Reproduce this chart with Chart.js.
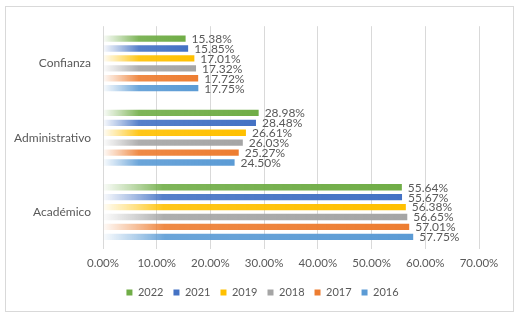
<!DOCTYPE html>
<html>
<head>
<meta charset="utf-8">
<script src="https://cdn.jsdelivr.net/npm/chart.js@4"></script>
<style>
  html, body { margin: 0; padding: 0; background: #fff; }
  #wrap {
    position: absolute; left: 5px; top: 6px;
    width: 507px; height: 304px;
    border: 1px solid #d9d9d9; background: #fff;
  }
</style>
</head>
<body>
<div id="wrap"><canvas id="chart"></canvas></div>
<script>
// categories (top to bottom) and one array per year
const categories = ["Confianza", "Administrativo", "Académico"];
const years = ["2022", "2021", "2019", "2018", "2017", "2016"];
const v2022 = [15.38, 28.98, 55.64];
const v2021 = [15.85, 28.48, 55.67];
const v2019 = [17.01, 26.61, 56.38];
const v2018 = [17.32, 26.03, 56.65];
const v2017 = [17.72, 25.27, 57.01];
const v2016 = [17.75, 24.50, 57.75];
const tickLabels = ["0.00%", "10.00%", "20.00%", "30.00%", "40.00%", "50.00%", "60.00%", "70.00%"];

const series = [v2022, v2021, v2019, v2018, v2017, v2016];
const colors = ["112,173,71", "68,114,196", "255,192,0", "165,165,165", "237,125,49", "91,155,213"];
const TXT = "#595959";
const FONT = "Lato, 'Liberation Sans', sans-serif";

// Excel-style gradient: fades in from white at the axis
function gradientFill(rgb) {
  return (ctx) => {
    const chart = ctx.chart;
    if (!chart.chartArea || ctx.raw == null) return "rgb(" + rgb + ")";
    const xs = chart.scales.x;
    const x0 = xs.getPixelForValue(0);
    const x1 = xs.getPixelForValue(ctx.raw);
    const len = Math.max(1, x1 - x0);
    const f = Math.min(1, Math.max(0.2, 36 / len));
    const g = chart.ctx.createLinearGradient(x0, 0, x1, 0);
    g.addColorStop(0, "rgba(" + rgb + ",0.03)");
    g.addColorStop(f * 0.5, "rgba(" + rgb + ",0.45)");
    g.addColorStop(f, "rgba(" + rgb + ",0.9)");
    g.addColorStop(1, "rgb(" + rgb + ")");
    return g;
  };
}

// value labels at the end of each bar
const valueLabels = {
  id: "valueLabels",
  afterDatasetsDraw(chart) {
    const c = chart.ctx;
    c.save();
    c.font = "12px " + FONT;
    c.fillStyle = TXT;
    c.textBaseline = "middle";
    c.textAlign = "left";
    chart.data.datasets.forEach((ds, i) => {
      chart.getDatasetMeta(i).data.forEach((bar, j) => {
        c.fillText(ds.data[j].toFixed(2) + "%", bar.x + 6, bar.y + 0.5);
      });
    });
    c.restore();
  }
};

new Chart(document.getElementById("chart"), {
  type: "bar",
  data: {
    labels: categories,
    datasets: years.map((y, i) => ({
      label: y,
      data: series[i],
      backgroundColor: gradientFill(colors[i]),
      borderWidth: 0,
      categoryPercentage: 0.8,
      barPercentage: 0.64
    }))
  },
  options: {
    indexAxis: "y",
    responsive: true,
    maintainAspectRatio: false,
    animation: false,
    layout: { padding: { top: 16, right: 0, bottom: 3, left: 6 } },
    plugins: {
      legend: {
        position: "bottom",
        labels: {
          color: TXT,
          font: { family: FONT, size: 11 },
          boxWidth: 6,
          boxHeight: 6,
          padding: 10,
          generateLabels: (chart) => chart.data.datasets.map((ds, i) => ({
            text: ds.label,
            fillStyle: "rgb(" + colors[i] + ")",
            strokeStyle: "rgb(" + colors[i] + ")",
            lineWidth: 0,
            datasetIndex: i,
            fontColor: TXT
          }))
        }
      },
      tooltip: { enabled: false }
    },
    scales: {
      x: {
        min: 0,
        max: 70,
        ticks: {
          stepSize: 10,
          color: TXT,
          font: { family: FONT, size: 11.5 },
          padding: 7,
          callback: (v, i) => tickLabels[i]
        },
        grid: { color: "#d9d9d9", drawTicks: false },
        border: { display: false },
        // keep room on the right without shifting the centred legend
        afterFit: (s) => { s.paddingRight = 34; }
      },
      y: {
        ticks: {
          color: TXT,
          font: { family: FONT, size: 12 },
          padding: 12
        },
        grid: { display: false, drawTicks: false },
        border: { display: false },
        afterFit: (s) => { s.width = 91; }
      }
    }
  },
  plugins: [valueLabels]
});
</script>
</body>
</html>
